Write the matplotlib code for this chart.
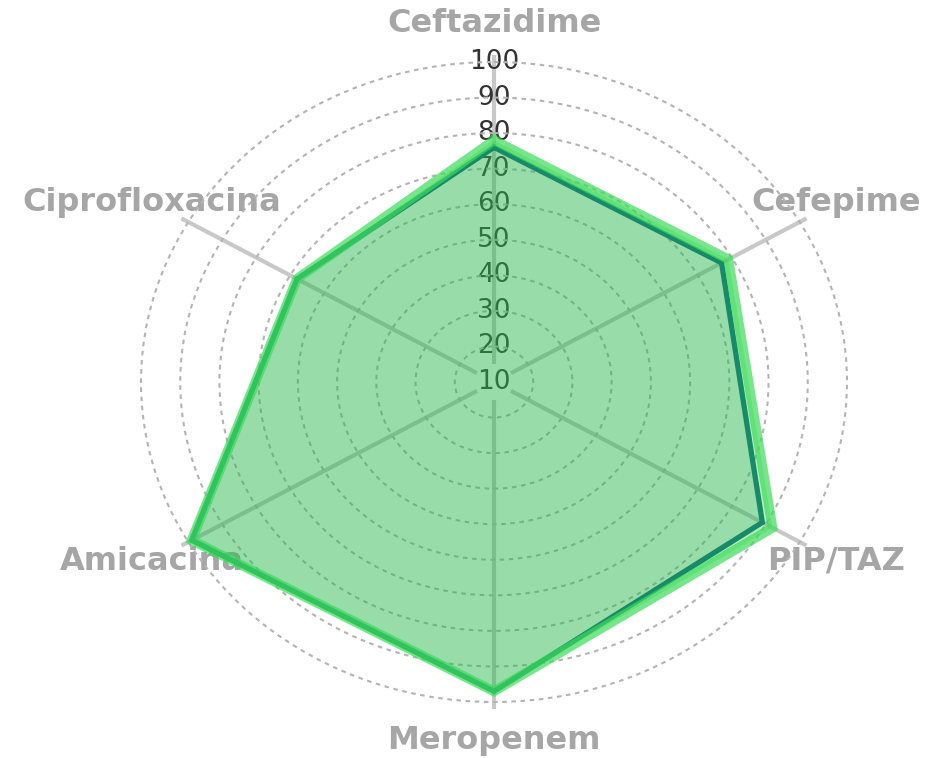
import numpy as np
import matplotlib
matplotlib.use("Agg")
import matplotlib.pyplot as plt

categories = ["Ceftazidime", "Cefepime", "PIP/TAZ", "Meropenem", "Amicacina", "Ciprofloxacina"]
series_dark = [76, 77, 89, 97, 99, 68]
series_light = [78, 79, 92, 97, 99, 68]
radial_ticks = [10, 20, 30, 40, 50, 60, 70, 80, 90, 100]

plt.rcParams['font.family'] = ['DejaVu Sans']

fig = plt.figure(figsize=(9.3, 7.58), dpi=100)
fig.patch.set_facecolor('white')
ax = fig.add_axes([141 / 930, 56 / 758, 706 / 930, 640 / 758], projection='polar')
ax.set_aspect('auto')
ax.set_theta_offset(np.pi / 2)
ax.set_theta_direction(-1)
ax.set_ylim(10, 100)
ax.set_facecolor('white')
ax.spines['polar'].set_visible(False)

n = len(categories)
theta = np.arange(n) * 2 * np.pi / n

# grid rings
ax.set_yticks(radial_ticks[1:])
ax.set_yticklabels([])
ax.yaxis.grid(True, color='#b4b4b4', linestyle=(0, (2.2, 2.2)), linewidth=1.5)
for gl in ax.yaxis.get_gridlines():
    gl.set_clip_on(False)
ax.set_xticks(theta)
ax.set_xticklabels([])
ax.xaxis.grid(False)
ax.tick_params(length=0)

# spokes
for t in theta:
    ax.plot([t, t], [15, 102], color='#c8c8c8', lw=3, zorder=1.2,
            solid_capstyle='butt', clip_on=False)

# radial tick labels (under fill)
for v in radial_ticks:
    ax.text(0, v, str(v), ha='center', va='center', fontsize=19, color='#333333', zorder=1.5)

# category labels
for t, c in zip(theta, categories):
    ax.text(t, 110.8, c, ha='center', va='center', fontsize=23, fontweight='bold',
            color='#a6a6a6', zorder=1.4, clip_on=False)

th_closed = np.append(theta, theta[0])
d = np.append(series_dark, series_dark[0])
l = np.append(series_light, series_light[0])

ax.fill(th_closed, d, color='#1b8c6c', alpha=0.22, zorder=2, lw=0)
ax.fill(th_closed, l, color='#2ecc40', alpha=0.33, zorder=2.1, lw=0)
ax.plot(th_closed, d, color='#178a6a', lw=3.8, zorder=3, solid_joinstyle='miter', clip_on=False)
ax.plot(th_closed, l, color='#3ddc5a', lw=7, alpha=0.7, zorder=3.1, solid_joinstyle='miter', clip_on=False)

fig.savefig('out.png', dpi=100, facecolor='white')
